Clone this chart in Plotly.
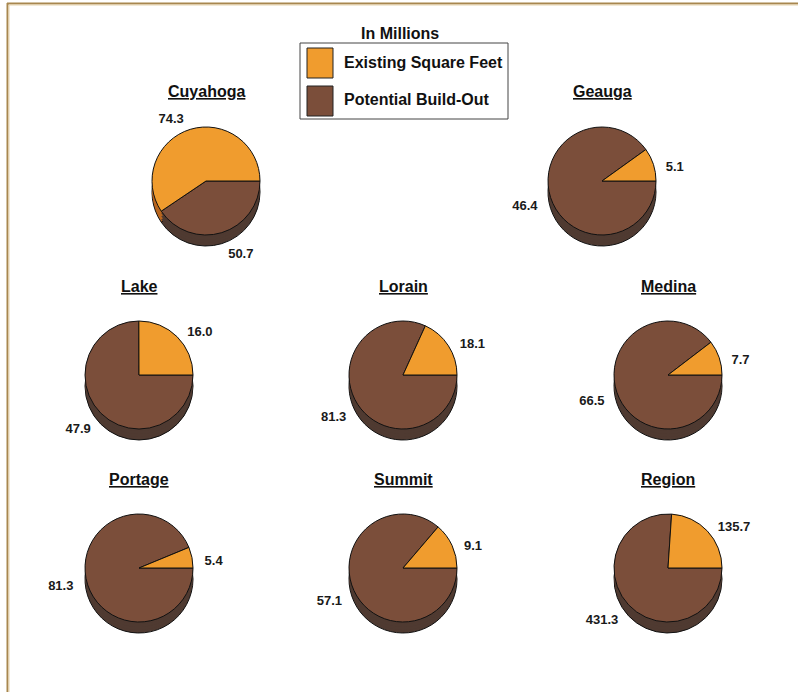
import plotly.graph_objects as go

# ---- data ----
counties = ["Cuyahoga", "Geauga", "Lake", "Lorain", "Medina", "Portage", "Summit", "Region"]
existing = [74.3, 5.1, 16.0, 18.1, 7.7, 5.4, 9.1, 135.7]
potential = [50.7, 46.4, 47.9, 81.3, 66.5, 81.3, 57.1, 431.3]
categories = ["Existing Square Feet", "Potential Build-Out"]
chart_title = "In Millions"

# ---- layout (pixel positions of each pie centre) ----
W, H = 798, 692
centers = [(206, 181), (602, 181),
           (139, 375), (403, 375), (668, 375),
           (139, 568), (403, 568), (668, 568)]
R = 54
DEPTH = [11, 8, 5, 2]
LABEL_R, LABEL_DY = 63, 5

top_colors = {"Existing Square Feet": "#F09C2E", "Potential Build-Out": "#7B4E3A"}
side_colors = {"Existing Square Feet": "#B9661F", "Potential Build-Out": "#4F3A31"}
FONT = "Liberation Sans, Arial, sans-serif"

# slice order on the pie: build-out first (clockwise from 3 o'clock),
# so existing space ends up counter-clockwise from 3 o'clock
slice_order = [categories[1], categories[0]]


def dom(cx, cy, r):
    return dict(x=[(cx - r) / W, (cx + r) / W],
                y=[1 - (cy + r) / H, 1 - (cy - r) / H])


def px(x, y):
    return x / W, 1 - y / H


fig = go.Figure()

for i, name in enumerate(counties):
    cx, cy = centers[i]
    vals_by_cat = {categories[0]: existing[i], categories[1]: potential[i]}
    vals = [vals_by_cat[c] for c in slice_order]
    common = dict(labels=slice_order, values=vals, sort=False,
                  direction="clockwise", rotation=90)
    # value labels (slightly larger, invisible pie so labels clear the rim)
    fig.add_trace(go.Pie(
        **common, domain=dom(cx, cy + LABEL_DY, LABEL_R),
        marker=dict(colors=["rgba(0,0,0,0)"] * 2, line=dict(width=0)),
        texttemplate="%{value:.1f}", textposition="outside",
        textfont=dict(family=FONT, size=13, color="#1a1a1a", weight="bold"),
        hoverinfo="skip", showlegend=False))
    # side (depth) layers
    for k, d in enumerate(DEPTH):
        fig.add_trace(go.Pie(
            **common, domain=dom(cx, cy + d, R),
            marker=dict(colors=[side_colors[c] for c in slice_order],
                        line=dict(color="#111111", width=1 if k == 0 else 0)),
            textinfo="none", hoverinfo="skip", showlegend=False))
    # top face
    fig.add_trace(go.Pie(
        **common, name=name, domain=dom(cx, cy, R),
        marker=dict(colors=[top_colors[c] for c in slice_order],
                    line=dict(color="#111111", width=1)),
        textinfo="none", showlegend=False))
    tx, ty = px(cx, cy - 89)
    fig.add_annotation(x=tx, y=ty, xref="paper", yref="paper",
                       xanchor="center", yanchor="middle",
                       text=f"<u>{name}</u>", showarrow=False,
                       font=dict(family=FONT, size=16, color="#111111", weight="bold"))

# title
tx, ty = px(400, 33)
fig.add_annotation(x=tx, y=ty, xref="paper", yref="paper",
                   xanchor="center", yanchor="middle",
                   text=chart_title, showarrow=False,
                   font=dict(family=FONT, size=16, color="#111111", weight="bold"))

shapes = []
# legend box
shapes.append(dict(type="rect", xref="paper", yref="paper",
                   x0=300 / W, x1=508 / W, y0=1 - 119 / H, y1=1 - 43 / H,
                   line=dict(color="#444444", width=1), fillcolor="white"))
for j, cat in enumerate(categories):
    y0 = 48 + j * 38
    shapes.append(dict(type="rect", xref="paper", yref="paper",
                       x0=307 / W, x1=333 / W, y0=1 - (y0 + 30) / H, y1=1 - y0 / H,
                       line=dict(color="#222222", width=1), fillcolor=top_colors[cat]))
    tx, ty = px(342, y0 + 14)
    fig.add_annotation(x=tx, y=ty, xref="paper", yref="paper",
                       xanchor="left", yanchor="middle", text=cat, showarrow=False,
                       font=dict(family=FONT, size=16, color="#111111", weight="bold"))

# outer frame
shapes.append(dict(type="line", xref="paper", yref="paper", x0=7 / W, x1=1, y0=1 - 3.5 / H, y1=1 - 3.5 / H,
                   line=dict(color="#A8874F", width=2)))
shapes.append(dict(type="line", xref="paper", yref="paper", x0=9 / W, x1=1, y0=1 - 5 / H, y1=1 - 5 / H,
                   line=dict(color="#E6D3AE", width=1)))
shapes.append(dict(type="line", xref="paper", yref="paper", x0=7.5 / W, x1=7.5 / W, y0=0, y1=1 - 3 / H,
                   line=dict(color="#A8874F", width=2)))
shapes.append(dict(type="line", xref="paper", yref="paper", x0=9 / W, x1=9 / W, y0=0, y1=1 - 5 / H,
                   line=dict(color="#E6D3AE", width=1)))

fig.update_layout(width=W, height=H, margin=dict(l=0, r=0, t=0, b=0),
                  paper_bgcolor="white", plot_bgcolor="white",
                  shapes=shapes, showlegend=False)

fig.write_html("out.html", config={"displayModeBar": False},
               post_script="document.body.style.margin='0';document.body.style.padding='0';")
